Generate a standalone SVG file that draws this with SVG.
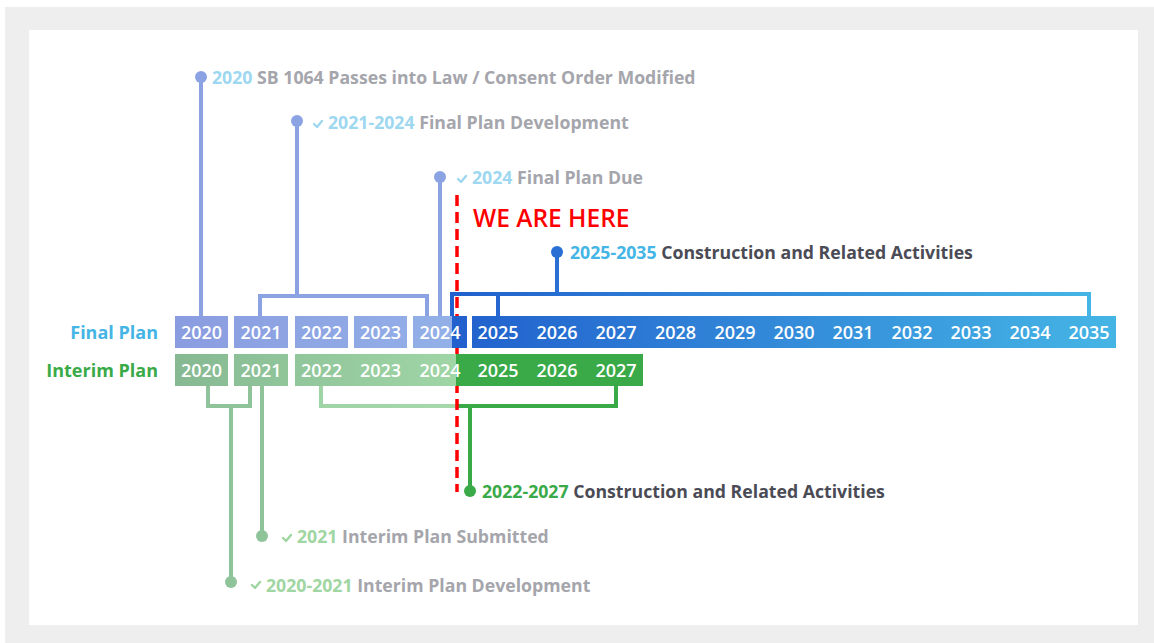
<svg xmlns="http://www.w3.org/2000/svg" width="1154" height="643" viewBox="0 0 1154 643">
<defs>
<linearGradient id="gFinalLight" gradientUnits="userSpaceOnUse" x1="175" y1="0" x2="467" y2="0">
<stop offset="0" stop-color="#8a9ce0"/><stop offset="1" stop-color="#93b1e8"/>
</linearGradient>
<linearGradient id="gInterimLight" gradientUnits="userSpaceOnUse" x1="175" y1="0" x2="457" y2="0">
<stop offset="0" stop-color="#86b992"/><stop offset="1" stop-color="#a0d6a6"/>
</linearGradient>
<linearGradient id="gBlue" gradientUnits="userSpaceOnUse" x1="452" y1="0" x2="1116" y2="0">
<stop offset="0" stop-color="#2160cd"/><stop offset="1" stop-color="#45b5e5"/>
</linearGradient>
<linearGradient id="gBlueLine" gradientUnits="userSpaceOnUse" x1="450" y1="0" x2="1092" y2="0">
<stop offset="0" stop-color="#2160cd"/><stop offset="1" stop-color="#45b5e5"/>
</linearGradient>
<linearGradient id="gGreenLine" gradientUnits="userSpaceOnUse" x1="319" y1="0" x2="618" y2="0">
<stop offset="0" stop-color="#9fd4a6"/><stop offset="0.46" stop-color="#a6d8ab"/><stop offset="0.461" stop-color="#3aaa48"/><stop offset="1" stop-color="#3aaa48"/>
</linearGradient>
</defs>
<style>
text{font-family:"Open Sans","Noto Sans","Liberation Sans",sans-serif;font-weight:700}
.yr{fill:#ffffff;font-size:18px;font-weight:600;text-anchor:middle}
.lbl{font-size:17.7px}
.gray{fill:#a5a5ac}
.dark{fill:#4b4b55}
.lblue{fill:#9dd7f0}
.lgreen{fill:#9fd6a2}
.stemB{stroke:#8ca3e3;stroke-width:4;fill:none}
.stemG{stroke:#8fc39a;stroke-width:4;fill:none}
.dotB{fill:#8ca3e3}
.dotG{fill:#8fc39a}
.chkB{stroke:#9dd7f0;stroke-width:2.4;fill:none;stroke-linecap:round;stroke-linejoin:round}
.chkG{stroke:#9fd6a2;stroke-width:2.4;fill:none;stroke-linecap:round;stroke-linejoin:round}
</style>
<rect x="5" y="7" width="1149" height="636" fill="#eeeeee"/>
<rect x="29" y="30" width="1109" height="595" fill="#ffffff"/>

<g id="connectors">
<line class="stemB" x1="201" y1="77" x2="201" y2="316"/>
<polyline class="stemB" points="260,316 260,296 427,296 427,316"/>
<line class="stemB" x1="297" y1="121" x2="297" y2="296"/>
<line class="stemB" x1="440" y1="177" x2="440" y2="316"/>
<polyline points="452,316 452,294 1089,294 1089,316" stroke="url(#gBlueLine)" stroke-width="4" fill="none"/>
<line x1="498" y1="294" x2="498" y2="316" stroke="#2566d0" stroke-width="4"/>
<line x1="557" y1="252" x2="557" y2="294" stroke="#2a6fd4" stroke-width="4"/>
<polyline class="stemG" points="208,386 208,406 250,406 250,386"/>
<line class="stemG" x1="231" y1="406" x2="231" y2="582"/>
<line class="stemG" x1="262" y1="386" x2="262" y2="536"/>
<polyline points="321,386 321,406 616,406 616,386" stroke="url(#gGreenLine)" stroke-width="4" fill="none"/>
<line x1="470" y1="406" x2="470" y2="491" stroke="#3aaa48" stroke-width="4"/>
<line x1="457" y1="195" x2="457" y2="492" stroke="#ff0000" stroke-width="3.5" stroke-dasharray="11,6"/>
</g>

<g id="final-plan-label"><text x="158" y="339" font-size="18" text-anchor="end" fill="#45b5e5">Final Plan</text></g>
<g id="interim-plan-label"><text x="158" y="377" font-size="18" text-anchor="end" fill="#3aaa48">Interim Plan</text></g>

<g id="final-2020"><rect x="175" y="316" width="53" height="32" fill="url(#gFinalLight)"/><text class="yr" x="201.5" y="338.5">2020</text></g>
<g id="final-2021"><rect x="234" y="316" width="54" height="32" fill="url(#gFinalLight)"/><text class="yr" x="261" y="338.5">2021</text></g>
<g id="final-2022"><rect x="295" y="316" width="53" height="32" fill="url(#gFinalLight)"/><text class="yr" x="321.5" y="338.5">2022</text></g>
<g id="final-2023"><rect x="354" y="316" width="53" height="32" fill="url(#gFinalLight)"/><text class="yr" x="380.5" y="338.5">2023</text></g>
<g id="final-2024"><rect x="413" y="316" width="54" height="32" fill="url(#gFinalLight)"/><rect x="452" y="316" width="15" height="32" fill="#2160cd"/><text class="yr" x="440" y="338.5">2024</text></g>
<g id="final-2025-2035">
<rect x="472" y="316" width="644" height="32" fill="url(#gBlue)"/>
<text class="yr" x="498" y="338.5">2025</text><text class="yr" x="557" y="338.5">2026</text><text class="yr" x="616" y="338.5">2027</text><text class="yr" x="675.5" y="338.5">2028</text><text class="yr" x="735" y="338.5">2029</text><text class="yr" x="794" y="338.5">2030</text><text class="yr" x="853" y="338.5">2031</text><text class="yr" x="912" y="338.5">2032</text><text class="yr" x="971" y="338.5">2033</text><text class="yr" x="1030" y="338.5">2034</text><text class="yr" x="1089" y="338.5">2035</text>
</g>

<g id="interim-2020"><rect x="175" y="354" width="53" height="32" fill="url(#gInterimLight)"/><text class="yr" x="201.5" y="376.5">2020</text></g>
<g id="interim-2021"><rect x="234" y="354" width="54" height="32" fill="url(#gInterimLight)"/><text class="yr" x="261" y="376.5">2021</text></g>
<g id="interim-2022-2027">
<rect x="295" y="354" width="161" height="32" fill="url(#gInterimLight)"/>
<rect x="456" y="354" width="187" height="32" fill="#3aaa48"/>
<text class="yr" x="321.5" y="376.5">2022</text><text class="yr" x="380.5" y="376.5">2023</text><text class="yr" x="440" y="376.5">2024</text><text class="yr" x="498" y="376.5">2025</text><text class="yr" x="557" y="376.5">2026</text><text class="yr" x="616" y="376.5">2027</text>
</g>

<g id="label-2020-sb1064"><circle class="dotB" cx="201" cy="77" r="6"/><text class="lbl" x="212" y="83.5"><tspan class="lblue">2020</tspan><tspan class="gray"> SB 1064 Passes into Law / Consent Order Modified</tspan></text></g>
<g id="label-final-dev"><circle class="dotB" cx="297" cy="121" r="6"/><polyline class="chkB" points="314,124 317,127 322,121"/><text class="lbl" x="328" y="128.5"><tspan class="lblue">2021-2024</tspan><tspan class="gray"> Final Plan Development</tspan></text></g>
<g id="label-final-due"><circle class="dotB" cx="440" cy="177" r="6"/><polyline class="chkB" points="458,179 461,182 466,176"/><text class="lbl" x="472" y="184"><tspan class="lblue">2024</tspan><tspan class="gray"> Final Plan Due</tspan></text></g>
<g id="we-are-here"><text x="473" y="227" font-size="24.5" fill="#ff0000" style="font-weight:600">WE ARE HERE</text></g>
<g id="label-final-construction"><circle cx="557" cy="252" r="6" fill="#2a6fd4"/><text class="lbl" x="570" y="259"><tspan fill="#45b5e5">2025-2035</tspan><tspan class="dark"> Construction and Related Activities</tspan></text></g>
<g id="label-interim-construction"><circle cx="470" cy="491" r="6" fill="#3aaa48"/><text class="lbl" x="482" y="498"><tspan fill="#3aaa48">2022-2027</tspan><tspan class="dark"> Construction and Related Activities</tspan></text></g>
<g id="label-interim-submitted"><circle class="dotG" cx="262" cy="536" r="6"/><polyline class="chkG" points="283,538 286,541 291,535"/><text class="lbl" x="297" y="543"><tspan class="lgreen">2021</tspan><tspan class="gray"> Interim Plan Submitted</tspan></text></g>
<g id="label-interim-dev"><circle class="dotG" cx="231" cy="582" r="6"/><polyline class="chkG" points="252,585 255,588 260,582"/><text class="lbl" x="266" y="592"><tspan class="lgreen">2020-2021</tspan><tspan class="gray"> Interim Plan Development</tspan></text></g>
</svg>
